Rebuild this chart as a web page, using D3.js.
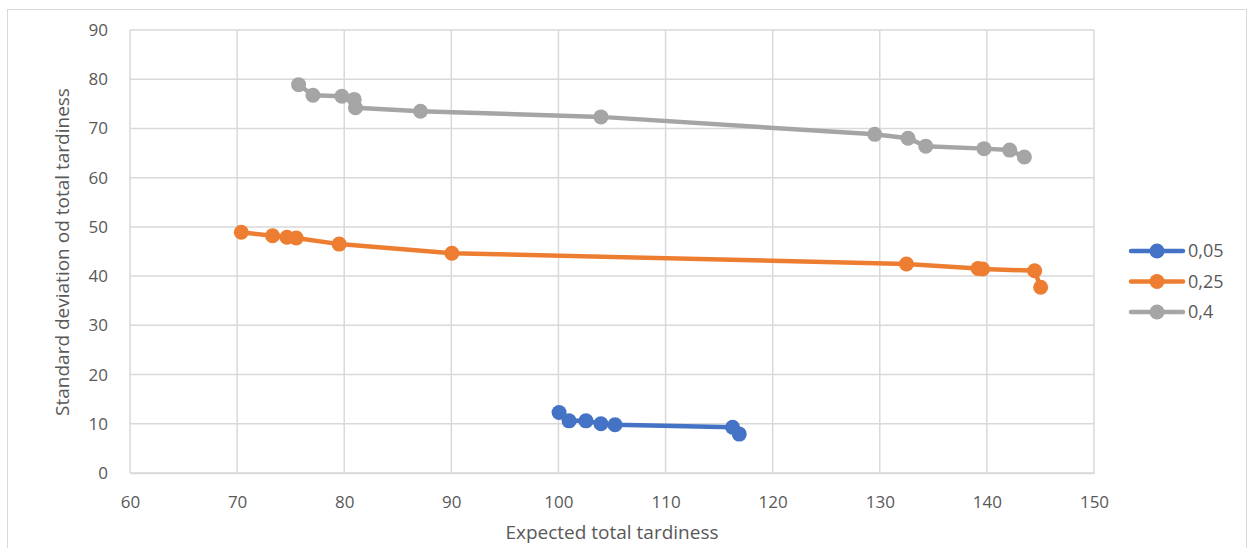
<!DOCTYPE html>
<html>
<head>
<meta charset="utf-8">
<script src="https://cdn.jsdelivr.net/npm/d3@7"></script>
<style>
  body { margin: 0; background: #fff; }
  text { font-family: "Open Sans", "Noto Sans", sans-serif; fill: #595959; }
</style>
</head>
<body>
<script>
var svgWidth = 1250;
var svgHeight = 548;

// series names and colours
var seriesNames = ["0,05", "0,25", "0,4"];
var seriesColors = ["#4472C4", "#ED7D31", "#A5A5A5"];

// expected total tardiness (x) and std deviation (y) per series
var x005 = [100.06, 100.99, 102.57, 103.97, 105.28, 116.26, 116.88];
var y005 = [12.3, 10.6, 10.6, 10.0, 9.8, 9.3, 7.9];

var x025 = [70.39, 73.31, 74.65, 75.52, 79.53, 90.05, 132.49, 139.17, 139.6, 144.46, 145.02];
var y025 = [48.9, 48.2, 47.9, 47.75, 46.5, 44.65, 42.47, 41.55, 41.45, 41.1, 37.75];

var x04 = [75.74, 77.08, 79.78, 80.93, 81.05, 87.12, 103.97, 129.53, 132.64, 134.29, 139.73, 142.13, 143.5];
var y04 = [78.9, 76.75, 76.55, 75.9, 74.2, 73.5, 72.35, 68.8, 68.0, 66.4, 65.9, 65.6, 64.2];

var xTicks = [60, 70, 80, 90, 100, 110, 120, 130, 140, 150];
var yTicks = [0, 10, 20, 30, 40, 50, 60, 70, 80, 90];

var Margins = { top: 30, right: 156, bot: 75, left: 130 };
var WidthOfChart = 1094 - Margins.left;
var HeightOfChart = 473 - Margins.top;

var svg = d3.select("body").append("svg")
  .attr("width", svgWidth)
  .attr("height", svgHeight);

// outer chart border
svg.append("rect")
  .attr("x", 7.5).attr("y", 9.5)
  .attr("width", 1239).attr("height", 560)
  .attr("fill", "none")
  .attr("stroke", "#D9D9D9");

var chartGroup = svg.append("g")
  .attr("transform", `translate(${Margins.left}, ${Margins.top})`);

var xAxe = d3.scaleLinear().domain([60, 150]).range([0, WidthOfChart]);
var yAxe = d3.scaleLinear().domain([0, 90]).range([HeightOfChart, 0]);

// gridlines
chartGroup.selectAll(".vgrid").data(xTicks).enter().append("line")
  .attr("x1", d => xAxe(d)).attr("x2", d => xAxe(d))
  .attr("y1", 0).attr("y2", HeightOfChart)
  .attr("stroke", "#D9D9D9").attr("stroke-width", 1.5);

chartGroup.selectAll(".hgrid").data(yTicks).enter().append("line")
  .attr("x1", 0).attr("x2", WidthOfChart)
  .attr("y1", d => yAxe(d)).attr("y2", d => yAxe(d))
  .attr("stroke", "#D9D9D9").attr("stroke-width", 1.5);

var BotAxe = d3.axisBottom(xAxe).tickValues(xTicks).tickSize(0).tickPadding(23);
var LeftAxe = d3.axisLeft(yAxe).tickValues(yTicks).tickSize(0).tickPadding(22);

var gx = chartGroup.append("g")
  .attr("transform", `translate(0, ${HeightOfChart})`)
  .call(BotAxe);
gx.select(".domain").attr("stroke", "#D9D9D9").attr("stroke-width", 1.5);

var gy = chartGroup.append("g").call(LeftAxe);
gy.select(".domain").remove();

chartGroup.selectAll(".tick text")
  .style("font-size", "17px")
  .style("font-family", "'Open Sans', sans-serif")
  .attr("fill", "#595959");

// axis titles
svg.append("text")
  .attr("transform", "rotate(-90)")
  .attr("x", -252)
  .attr("y", 69)
  .style("text-anchor", "middle")
  .style("font-size", "19px")
  .text("Standard deviation od total tardiness");

svg.append("text")
  .attr("x", 612)
  .attr("y", 539)
  .style("text-anchor", "middle")
  .style("font-size", "19px")
  .text("Expected total tardiness");

// series
var seriesX = [x005, x025, x04];
var seriesY = [y005, y025, y04];

var line = d3.line().x(d => xAxe(d[0])).y(d => yAxe(d[1]));

seriesNames.forEach(function(name, i) {
  var pts = seriesX[i].map((v, j) => [v, seriesY[i][j]]);
  chartGroup.append("path")
    .datum(pts)
    .attr("d", line)
    .attr("fill", "none")
    .attr("stroke", seriesColors[i])
    .attr("stroke-width", 4.5)
    .attr("stroke-linejoin", "round");
  chartGroup.selectAll(".pt" + i).data(pts).enter().append("circle")
    .attr("cx", d => xAxe(d[0]))
    .attr("cy", d => yAxe(d[1]))
    .attr("r", 7.5)
    .attr("fill", seriesColors[i]);
});

// legend
var legend = svg.append("g").attr("transform", "translate(1131, 251)");
seriesNames.forEach(function(name, i) {
  var row = legend.append("g").attr("transform", `translate(0, ${i * 30.5})`);
  row.append("line")
    .attr("x1", 0).attr("x2", 52).attr("y1", 0).attr("y2", 0)
    .attr("stroke", seriesColors[i]).attr("stroke-width", 4.5)
    .attr("stroke-linecap", "round");
  row.append("circle").attr("cx", 26).attr("cy", 0).attr("r", 7.5)
    .attr("fill", seriesColors[i]);
  row.append("text")
    .attr("x", 57).attr("y", 6)
    .style("font-size", "18px")
    .text(name);
});
</script>
</body>
</html>
